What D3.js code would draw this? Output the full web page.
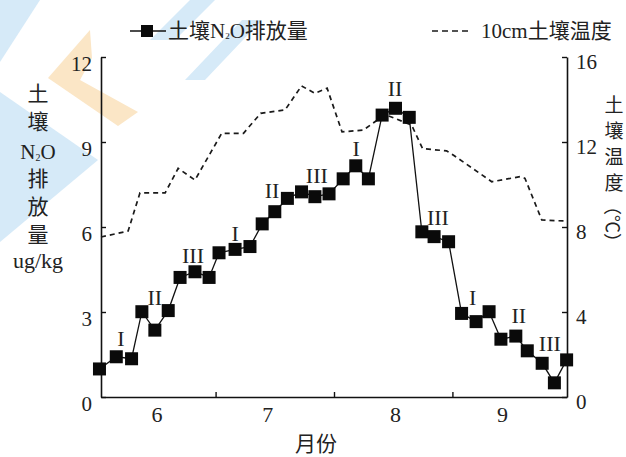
<!DOCTYPE html>
<html>
<head>
<meta charset="utf-8">
<script src="https://cdn.jsdelivr.net/npm/d3@7/dist/d3.min.js"></script>
<style>
  html, body { margin: 0; padding: 0; background: #fff; }
  svg { display: block; }
  text { font-family: "Liberation Serif", "Noto Sans CJK SC", serif; fill: #222; }
  .cjk { font-family: "Noto Sans CJK SC", "Liberation Serif", sans-serif; }
</style>
</head>
<body>
<svg id="chart" width="626" height="457"></svg>
<script>
// Day of season counted from 1 June (day 0) to 1 October (day 122)
const monthLabels = ["6", "7", "8", "9"];
const monthLabelDays = [14.5, 43.5, 77, 105];
const monthStartDays = [30, 61, 92];

// Soil N2O emission (ug/kg), left axis
const n2oDays = [-0.4, 4, 8, 10.7, 14.1, 17.6, 20.7, 24.6, 28.3, 30.9, 35.1, 39,
  42.2, 45.5, 48.8, 52.5, 56, 59.7, 63.4, 66.7, 70, 73.6, 77.1, 80.7,
  84, 87.2, 91, 94.4, 98.2, 101.6, 104.7, 108.6, 111.6, 115.5, 118.7, 121.9];
const n2oValues = [0.99, 1.42, 1.35, 3.01, 2.36, 3.05, 4.22, 4.42, 4.22, 5.09, 5.21, 5.31,
  6.11, 6.54, 7.01, 7.24, 7.07, 7.17, 7.70, 8.16, 7.70, 9.95, 10.19, 9.87,
  5.83, 5.66, 5.48, 2.95, 2.66, 3.01, 2.04, 2.15, 1.63, 1.19, 0.50, 1.31];

// Soil temperature at 10 cm (°C), right axis
const tempDays = [0, 7.1, 10.2, 16.8, 20.2, 24.6, 31.6, 37.3, 41.8, 48.2, 52.5, 56, 59.2,
  63.1, 68.7, 72, 74.7, 81.3, 84.2, 90.5, 92.2, 102.3, 109.7, 111, 115.4, 121.7];
const tempValues = [7.53, 7.81, 9.61, 9.61, 10.76, 10.21, 12.41, 12.41, 13.35, 13.51, 14.64, 14.29, 14.53,
  12.48, 12.56, 12.99, 13.27, 12.80, 11.69, 11.58, 11.39, 10.13, 10.37, 10.29, 8.33, 8.28];

// Stage marks within each month
const stageLabels = ["I", "II", "III", "I", "II", "III", "I", "II", "III", "I", "II", "III"];
const stageDays = [5.2, 14.1, 24.1, 35.1, 44.8, 56.5, 66.8, 77, 88.2, 97.3, 109.4, 117.5];
const stageValues = [2.08, 3.53, 5.01, 5.79, 7.31, 7.84, 8.79, 10.9, 6.35, 3.53, 2.89, 1.91];

const leftTicks = [0, 3, 6, 9, 12];
const rightTicks = [0, 4, 8, 12, 16];

const svg = d3.select("#chart");

// faint backdrop emblem in the upper-left corner
const deco = svg.append("g").attr("class", "backdrop");
deco.append("polygon").attr("points", "0,0 40,0 0,62").attr("fill", "#d6eaf8");
deco.append("polygon").attr("points", "0,92 98,160 0,242").attr("fill", "#d6eaf8");
deco.append("polygon").attr("points", "90,30 48,78 118,126 138,112 80,80 92,58").attr("fill", "#fbe6c6");
deco.append("polygon").attr("points", "150,40 175,40 215,0 190,0").attr("fill", "#d6eaf8");
deco.append("polygon").attr("points", "185,80 205,80 262,20 242,20").attr("fill", "#d6eaf8");

const x = d3.scaleLinear().domain([0, 122]).range([101, 567]);
const yL = d3.scaleLinear().domain([0, 12]).range([397, 57]);
const yR = d3.scaleLinear().domain([0, 16]).range([397, 57]);

// axes
const axisStyle = g => {
  g.select(".domain").attr("stroke", "#111").attr("stroke-width", 1.6);
  g.selectAll(".tick line").attr("stroke", "#111").attr("stroke-width", 1.4);
  g.selectAll(".tick text").attr("font-size", 21).attr("fill", "#222")
    .attr("font-family", "Liberation Serif, serif");
};

svg.append("g").attr("transform", "translate(101,0)")
  .call(d3.axisLeft(yL).tickValues(leftTicks).tickSizeInner(-5).tickSizeOuter(0).tickPadding(9))
  .call(axisStyle)
  .call(g => g.selectAll(".tick text").attr("dy", "0.62em"));

svg.append("g").attr("transform", "translate(567,0)")
  .call(d3.axisRight(yR).tickValues(rightTicks).tickSizeInner(-5).tickSizeOuter(0).tickPadding(9))
  .call(axisStyle)
  .call(g => g.selectAll(".tick text").attr("dy", "0.55em"));

svg.append("g").attr("transform", "translate(0,397)")
  .call(d3.axisBottom(x).tickValues(monthStartDays).tickSizeInner(-5).tickSizeOuter(0).tickFormat(""))
  .call(axisStyle);

svg.append("g").attr("transform", "translate(0,397)")
  .call(d3.axisBottom(x).tickValues(monthLabelDays).tickSize(0).tickPadding(9)
    .tickFormat((d, i) => monthLabels[i]))
  .call(axisStyle)
  .call(g => g.select(".domain").remove())
  .call(g => g.selectAll(".tick text").attr("font-size", 22));

// axis titles
svg.append("text").attr("class", "cjk").attr("x", 316).attr("y", 451)
  .attr("text-anchor", "middle").attr("font-size", 21).text("月份");

const leftTitle = svg.append("g").attr("class", "cjk").attr("font-size", 21);
["土", "壤"].forEach((c, i) => leftTitle.append("text").attr("class", "cjk")
  .attr("x", 38).attr("y", 101 + i * 28).attr("text-anchor", "middle").text(c));
const n2oT = leftTitle.append("text").attr("x", 38).attr("y", 159).attr("text-anchor", "middle")
  .attr("font-family", "Liberation Serif, serif").attr("font-size", 21);
n2oT.append("tspan").text("N");
n2oT.append("tspan").attr("font-size", 10).attr("dy", 2).text("2");
n2oT.append("tspan").attr("dy", -2).text("O");
["排", "放", "量"].forEach((c, i) => leftTitle.append("text").attr("class", "cjk")
  .attr("x", 38).attr("y", 186 + i * 28).attr("text-anchor", "middle").text(c));
leftTitle.append("text").attr("x", 38).attr("y", 268).attr("text-anchor", "middle")
  .attr("font-family", "Liberation Serif, serif").attr("font-size", 22).text("ug/kg");

const rightTitle = svg.append("g");
["土", "壤", "温", "度"].forEach((c, i) => rightTitle.append("text").attr("class", "cjk")
  .attr("x", 614).attr("y", 112 + i * 26).attr("text-anchor", "middle")
  .attr("font-size", 19).text(c));
rightTitle.append("text").attr("class", "cjk")
  .attr("transform", "translate(606,224) rotate(90)")
  .attr("text-anchor", "middle").attr("font-size", 18).text("（℃）");

// temperature line (dashed)
const tempLine = d3.line().x((d, i) => x(tempDays[i])).y(d => yR(d));
svg.append("path").datum(tempValues).attr("d", tempLine)
  .attr("fill", "none").attr("stroke", "#1a1a1a").attr("stroke-width", 1.7)
  .attr("stroke-dasharray", "5,4");

// N2O line with square markers
const n2oLine = d3.line().x((d, i) => x(n2oDays[i])).y(d => yL(d));
svg.append("path").datum(n2oValues).attr("d", n2oLine)
  .attr("fill", "none").attr("stroke", "#111").attr("stroke-width", 1.3);

const sq = 13;
svg.append("g").selectAll("rect").data(n2oValues).join("rect")
  .attr("x", (d, i) => x(n2oDays[i]) - sq / 2)
  .attr("y", d => yL(d) - sq / 2)
  .attr("width", sq).attr("height", sq).attr("fill", "#0a0a0a");

// stage labels
svg.append("g").selectAll("text").data(stageLabels).join("text")
  .attr("x", (d, i) => x(stageDays[i]))
  .attr("y", (d, i) => yL(stageValues[i]))
  .attr("dy", "0.35em").attr("text-anchor", "middle")
  .attr("font-size", 22).attr("font-family", "Liberation Serif, serif")
  .text(d => d);

// legend
const lg = svg.append("g");
lg.append("line").attr("x1", 130).attr("x2", 166).attr("y1", 31).attr("y2", 31)
  .attr("stroke", "#111").attr("stroke-width", 1.3);
lg.append("rect").attr("x", 141).attr("y", 25).attr("width", 12).attr("height", 12).attr("fill", "#0a0a0a");
const lt1 = lg.append("text").attr("x", 168).attr("y", 38).attr("font-size", 21);
lt1.append("tspan").attr("class", "cjk").text("土壤");
lt1.append("tspan").attr("font-family", "Liberation Serif, serif").text("N");
lt1.append("tspan").attr("font-family", "Liberation Serif, serif").attr("font-size", 9).attr("dy", 1).text("2");
lt1.append("tspan").attr("font-family", "Liberation Serif, serif").attr("dy", -1).text("O");
lt1.append("tspan").attr("class", "cjk").text("排放量");

lg.append("line").attr("x1", 432).attr("x2", 472).attr("y1", 31).attr("y2", 31)
  .attr("stroke", "#1a1a1a").attr("stroke-width", 1.6).attr("stroke-dasharray", "6,4");
const lt2 = lg.append("text").attr("x", 481).attr("y", 38).attr("font-size", 21);
lt2.append("tspan").attr("font-family", "Liberation Serif, serif").text("10cm");
lt2.append("tspan").attr("class", "cjk").text("土壤温度");
</script>
</body>
</html>
